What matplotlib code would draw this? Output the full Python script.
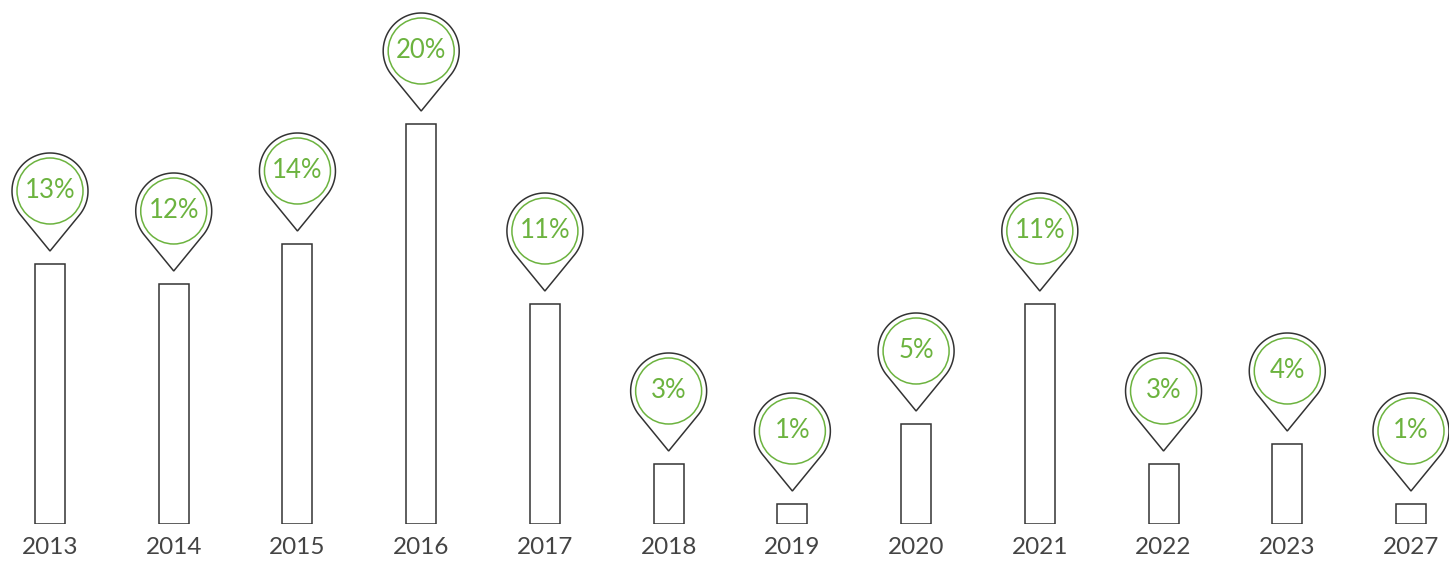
"""Bar chart with map-pin percentage markers."""
import matplotlib
matplotlib.use("Agg")
import matplotlib.pyplot as plt
import matplotlib.transforms as mtransforms
from matplotlib.path import Path
from matplotlib.patches import PathPatch, Circle
import numpy as np

years = ["2013", "2014", "2015", "2016", "2017", "2018",
         "2019", "2020", "2021", "2022", "2023", "2027"]
values = [13, 12, 14, 20, 11, 3, 1, 5, 11, 3, 4, 1]

DPI = 100
W, H = 1449, 561
OUTLINE = "#333333"
GREEN = "#6cb33f"
FONT = "Lato"

# pin geometry in pixels, relative to the pin tip
GAP = 13        # tip above bar top
R_OUT = 38
R_IN = 33
DROP = 60       # tip to circle centre


def pin_path():
    theta = np.arccos(R_OUT / DROP)
    start = -np.pi / 2 + theta
    end = -np.pi / 2 - theta + 2 * np.pi
    a = np.linspace(start, end, 120)
    xs = R_OUT * np.cos(a)
    ys = DROP + R_OUT * np.sin(a)
    verts = [(0, 0)] + list(zip(xs, ys)) + [(0, 0)]
    codes = [Path.MOVETO] + [Path.LINETO] * (len(verts) - 2) + [Path.CLOSEPOLY]
    return Path(verts, codes)


fig = plt.figure(figsize=(W / DPI, H / DPI), dpi=DPI)
bottom_px = 37
px_per_pct = 20
x0, step = 50, (1411 - 50) / 11
ax = fig.add_axes([0, bottom_px / H, 1, 1 - bottom_px / H])
ax.set_xlim(-x0 / step, (W - x0) / step)
ax.set_ylim(0, (H - bottom_px) / px_per_pct)
ax.axis("off")

x = np.arange(len(years))
ax.bar(x, values, width=30 / step, facecolor="white",
       edgecolor=OUTLINE, linewidth=1.1)

px = mtransforms.Affine2D().scale(1 / DPI)
path = pin_path()
for xi, v, yr in zip(x, values, years):
    tr = px + fig.dpi_scale_trans + mtransforms.ScaledTranslation(xi, v, ax.transData)
    base = px + fig.dpi_scale_trans + mtransforms.ScaledTranslation(xi, 0, ax.transData)
    tip = mtransforms.Affine2D().translate(0, GAP)
    ax.add_patch(PathPatch(path, transform=tip + tr, facecolor="white",
                           edgecolor=OUTLINE, linewidth=1.1, clip_on=False))
    ax.add_patch(Circle((0, GAP + DROP), R_IN, transform=tr, facecolor="none",
                        edgecolor=GREEN, linewidth=1.1, clip_on=False))
    ax.text(0, GAP + DROP, f"{v}%", transform=tr, ha="center", va="center",
            fontsize=18.5, color=GREEN, family=FONT, zorder=5)
    ax.text(0, -24, yr, transform=base, ha="center", va="center",
            fontsize=17.5, color="#444444", family=FONT, zorder=5)

fig.savefig("out.png", dpi=DPI)
